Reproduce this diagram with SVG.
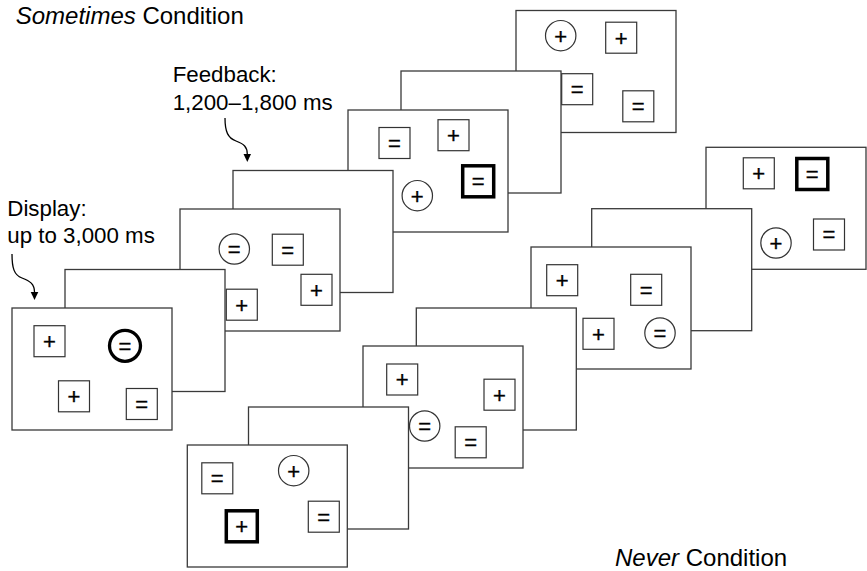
<svg xmlns="http://www.w3.org/2000/svg" width="867" height="571" viewBox="0 0 867 571">
<style>
.p{fill:#fff;stroke:#3a3a3a;stroke-width:1.3}
.b{fill:#fff;stroke:#333;stroke-width:1.2}
.bt{fill:#fff;stroke:#000;stroke-width:3.5}
.c{fill:#fff;stroke:#333;stroke-width:1.2}
.ct{fill:#fff;stroke:#000;stroke-width:3.3}
.s{font-family:"Liberation Sans",Arial,sans-serif;font-size:22px;text-anchor:middle;fill:#000;stroke:#000;stroke-width:0.35}
.t{font-family:"Liberation Sans",Arial,sans-serif;fill:#000}
.a{fill:none;stroke:#000;stroke-width:1.3}
</style>
<rect width="867" height="571" fill="#fff"/>
<g id="labels">
<text class="t" x="15.7" y="24" font-size="24"><tspan font-style="italic">Sometimes</tspan> Condition</text>
<text class="t" x="615" y="565.7" font-size="24"><tspan font-style="italic">Never</tspan> Condition</text>
<text class="t" x="7.3" y="216" font-size="22.3">Display:</text>
<text class="t" x="7.3" y="243.3" font-size="22.3">up to 3,000 ms</text>
<text class="t" x="172.7" y="82.3" font-size="22.3">Feedback:</text>
<text class="t" x="172.7" y="110" font-size="22.3">1,200–1,800 ms</text>
</g>
<g id="connectors">
<path class="a" d="M12,254 C12,268 14,275 22,278 C30,281 34.5,284 34.5,292"/>
<polygon points="30.7,292 38.3,292 34.5,300" fill="#000"/>
<path class="a" d="M225,118 C225,132 228,138 236,141 C244,144 247.3,147 247.3,154"/>
<polygon points="243.5,154 251,154 247.3,162" fill="#000"/>
</g>
<!-- Sometimes condition -->
<g id="s7">
<rect class="p" x="516" y="10.5" width="160" height="122"/>
<circle class="c" cx="560.7" cy="35.7" r="15.2"/><text class="s" x="560.7" y="43.5">+</text>
<rect class="b" x="605.7" y="22.2" width="31" height="31"/><text class="s" x="621.2" y="45.5">+</text>
<rect class="b" x="561.7" y="73.7" width="31" height="31"/><text class="s" x="577.2" y="97">=</text>
<rect class="b" x="622.8" y="90.8" width="31" height="31"/><text class="s" x="638.3" y="114.1">=</text>
</g>
<g id="s6"><rect class="p" x="401" y="71" width="160" height="122"/></g>
<g id="s5">
<rect class="p" x="348" y="110" width="160" height="122"/>
<rect class="b" x="379" y="127.5" width="31" height="31"/><text class="s" x="394.5" y="150.8">=</text>
<rect class="b" x="438" y="119.7" width="31" height="31"/><text class="s" x="453.5" y="143">+</text>
<rect class="bt" x="462.7" y="165.8" width="31" height="31"/><text class="s" x="478.2" y="189.1">=</text>
<circle class="c" cx="417.3" cy="195.7" r="15.2"/><text class="s" x="417.3" y="203.5">+</text>
</g>
<g id="s4"><rect class="p" x="233" y="170.5" width="160" height="122"/></g>
<g id="s3">
<rect class="p" x="180" y="209" width="160" height="122"/>
<circle class="c" cx="234.3" cy="249" r="15.2"/><text class="s" x="234.3" y="256.8">=</text>
<rect class="b" x="272.3" y="234.2" width="31" height="31"/><text class="s" x="287.8" y="257.5">=</text>
<rect class="b" x="301" y="274.3" width="31" height="31"/><text class="s" x="316.5" y="297.6">+</text>
<rect class="b" x="226.3" y="289.2" width="31" height="31"/><text class="s" x="241.8" y="312.5">+</text>
</g>
<g id="s2"><rect class="p" x="65" y="269.5" width="160" height="122"/></g>
<g id="s1">
<rect class="p" x="12" y="308" width="160" height="122"/>
<rect class="b" x="34" y="325.7" width="31" height="31"/><text class="s" x="49.5" y="349">+</text>
<circle class="ct" cx="125" cy="345.8" r="15.5"/><text class="s" x="125" y="353.6">=</text>
<rect class="b" x="58.5" y="380.8" width="31" height="31"/><text class="s" x="74" y="404.1">+</text>
<rect class="b" x="126.3" y="388.5" width="31" height="31"/><text class="s" x="141.8" y="411.8">=</text>
</g>
<!-- Never condition -->
<g id="n7">
<rect class="p" x="706" y="147.3" width="160" height="122"/>
<rect class="b" x="743.3" y="157.8" width="31" height="31"/><text class="s" x="758.8" y="181.1">+</text>
<rect class="bt" x="796.8" y="158.5" width="31" height="31"/><text class="s" x="812.3" y="181.8">=</text>
<circle class="c" cx="776" cy="243" r="15.2"/><text class="s" x="776" y="250.8">+</text>
<rect class="b" x="813.5" y="219" width="31" height="31"/><text class="s" x="829" y="242.3">=</text>
</g>
<g id="n6"><rect class="p" x="591.7" y="208.7" width="160" height="122"/></g>
<g id="n5">
<rect class="p" x="531" y="247" width="160" height="122"/>
<rect class="b" x="546.7" y="264.7" width="31" height="31"/><text class="s" x="562.2" y="288">+</text>
<rect class="b" x="630.7" y="274.3" width="31" height="31"/><text class="s" x="646.2" y="297.6">=</text>
<rect class="b" x="583" y="318.3" width="31" height="31"/><text class="s" x="598.5" y="341.6">+</text>
<circle class="c" cx="660" cy="333" r="15.2"/><text class="s" x="660" y="340.8">=</text>
</g>
<g id="n4"><rect class="p" x="416.3" y="308" width="160" height="122"/></g>
<g id="n3">
<rect class="p" x="363" y="346" width="160" height="122"/>
<rect class="b" x="386.7" y="364" width="31" height="31"/><text class="s" x="402.2" y="387.3">+</text>
<rect class="b" x="484" y="379.2" width="31" height="31"/><text class="s" x="499.5" y="402.5">+</text>
<circle class="c" cx="424.7" cy="426" r="15.2"/><text class="s" x="424.7" y="433.8">=</text>
<rect class="b" x="455.2" y="426.8" width="31" height="31"/><text class="s" x="470.7" y="450.1">=</text>
</g>
<g id="n2"><rect class="p" x="248.5" y="407" width="160" height="122"/></g>
<g id="n1">
<rect class="p" x="187.3" y="445" width="160" height="122"/>
<rect class="b" x="201.8" y="462.8" width="31" height="31"/><text class="s" x="217.3" y="486.1">=</text>
<circle class="c" cx="293.7" cy="470.7" r="15.2"/><text class="s" x="293.7" y="478.5">+</text>
<rect class="bt" x="226.3" y="510.8" width="31" height="31"/><text class="s" x="241.8" y="534.1">+</text>
<rect class="b" x="308.3" y="501.2" width="31" height="31"/><text class="s" x="323.8" y="524.5">=</text>
</g>
</svg>
